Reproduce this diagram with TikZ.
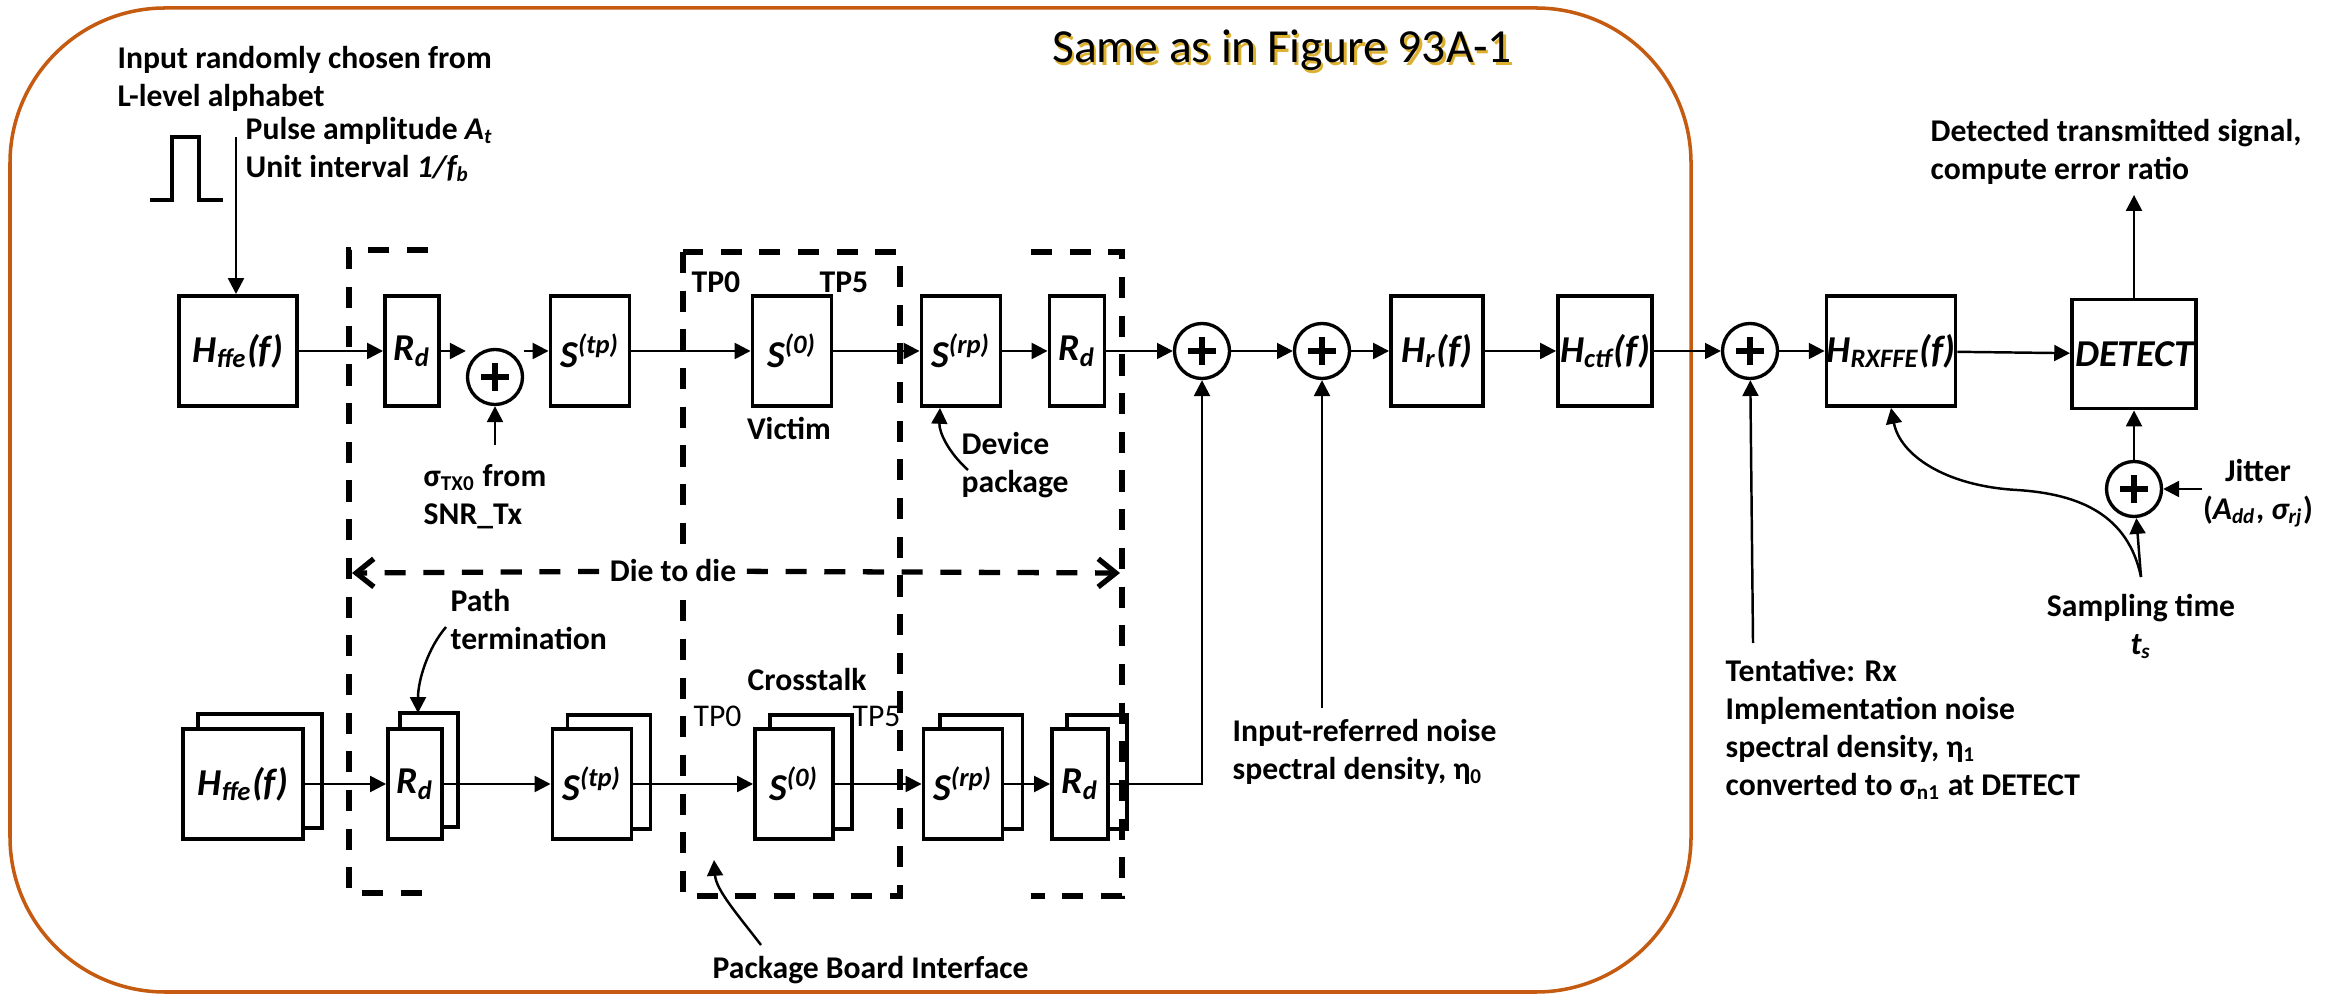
\documentclass[tikz,border=0pt]{standalone}
\usepackage{fontspec}
\setmainfont{Carlito}
\usetikzlibrary{arrows.meta, positioning, calc}

\definecolor{frameorange}{RGB}{197,90,17}
\definecolor{glow}{RGB}{222,176,48}

\tikzset{
  blk/.style={draw, line width=1.1pt, fill=white, inner sep=0pt, minimum height=1.1cm,
    font=\fontsize{10.8}{12}\selectfont\bfseries\itshape},
  summer/.style={circle, draw, line width=0.95pt, fill=white, minimum size=0.55cm, inner sep=0pt,
    path picture={\draw[line width=1.7pt] (path picture bounding box.center)
      +(-0.14cm,0) -- +(0.14cm,0) +(0,-0.14cm) -- +(0,0.14cm);}},
  arr/.style={-{Triangle[length=4.5pt,width=4.5pt]}, line width=0.7pt},
  lbl/.style={font=\fontsize{9}{10.8}\selectfont\bfseries, inner sep=0pt, align=left},
  dashbox/.style={dash pattern=on 6pt off 5pt, line width=1.5pt},
  dasharr/.style={dash pattern=on 6pt off 5pt, line width=1.5pt, -{Straight Barb[length=5pt,width=8pt]}},
}

\begin{document}
\begin{tikzpicture}[x=0.01cm, y=-0.01cm]
    \useasboundingbox (0,0) rectangle (2328,995);

    \draw[frameorange, line width=1pt, rounded corners=1.55cm] (10,8) rectangle (1691,992);
    \node[glow, font=\fontsize{13.5}{16}\selectfont, anchor=base, inner sep=0pt] (titleg) at (1284.5,65.5) {Same as in Figure 93A-1};
    \node[font=\fontsize{13.5}{16}\selectfont, anchor=base, inner sep=0pt] (title) at (1282,63) {Same as in Figure 93A-1};

    \draw[line width=0.9pt] (150,200) -- (172,200) -- (172,137) -- (199,137) -- (199,200) -- (223,200);

    \draw[dashbox] (428,250) -- (349,250) -- (349,893) -- (428,893);
    \draw[dashbox] (683,252) rectangle (900,896);
    \draw[dashbox] (1031,252) -- (1122,252) -- (1122,896) -- (1031,896);

    \node[blk, minimum width=1.18cm] (hffe1) at (238,351) {H\textsubscript{ffe}(f)};
    \node[blk, minimum width=0.54cm] (rd1) at (412,351) {R\textsubscript{d}};
    \node[summer] (sum1) at (495,377) {};
    \node[blk, minimum width=0.79cm] (stp1) at (590,351) {S\textsuperscript{(tp)}};
    \node[blk, minimum width=0.79cm] (s01) at (792,351) {S\textsuperscript{(0)}};
    \node[blk, minimum width=0.79cm] (srp1) at (961,351) {S\textsuperscript{(rp)}};
    \node[blk, minimum width=0.55cm] (rd2) at (1077,351) {R\textsubscript{d}};
    \node[summer] (sum2) at (1202,351) {};
    \node[summer] (sum3) at (1322,351) {};
    \node[blk, minimum width=0.92cm] (hr) at (1437,351) {H\textsubscript{r}(f)};
    \node[blk, minimum width=0.94cm] (hctf) at (1605,351) {H\textsubscript{ctf}(f)};
    \node[summer] (sum4) at (1750,351) {};
    \node[blk, minimum width=1.25cm] (hrx) at (1891,351) {H\textsubscript{RXFFE}(f)};
    \node[blk, minimum width=1.24cm, minimum height=1.09cm] (det) at (2134,354) {DETECT};
    \node[summer] (sum5) at (2134,489) {};

    \node[blk, minimum width=1.2cm] (hffe2) at (243,784) {H\textsubscript{ffe}(f)};
    \node[blk, minimum width=0.54cm] (rd3) at (415,784) {R\textsubscript{d}};
    \node[blk, minimum width=0.79cm] (stp2) at (592,784) {S\textsuperscript{(tp)}};
    \node[blk, minimum width=0.78cm] (s02) at (794,784) {S\textsuperscript{(0)}};
    \node[blk, minimum width=0.79cm] (srp2) at (963,784) {S\textsuperscript{(rp)}};
    \node[blk, minimum width=0.56cm] (rd4) at (1080,784) {R\textsubscript{d}};

    \draw[line width=1.1pt] ([xshift=0.17cm]hffe2.north west) |- ([xshift=0.17cm,yshift=0.13cm]hffe2.north east) |- ([yshift=0.13cm]hffe2.south east);
    \draw[line width=1.1pt] ([xshift=0.14cm]rd3.north west) |- ([xshift=0.14cm,yshift=0.14cm]rd3.north east) |- ([yshift=0.14cm]rd3.south east);
    \draw[line width=1.1pt] ([xshift=0.17cm]stp2.north west) |- ([xshift=0.17cm,yshift=0.12cm]stp2.north east) |- ([yshift=0.12cm]stp2.south east);
    \draw[line width=1.1pt] ([xshift=0.17cm]s02.north west) |- ([xshift=0.17cm,yshift=0.12cm]s02.north east) |- ([yshift=0.12cm]s02.south east);
    \draw[line width=1.1pt] ([xshift=0.18cm]srp2.north west) |- ([xshift=0.18cm,yshift=0.12cm]srp2.north east) |- ([yshift=0.12cm]srp2.south east);
    \draw[line width=1.1pt] ([xshift=0.17cm]rd4.north west) |- ([xshift=0.17cm,yshift=0.12cm]rd4.north east) |- ([yshift=0.12cm]rd4.south east);

    \coordinate (pin) at (236,137);
    \draw[arr] (pin) -- (pin |- hffe1.north);
    \draw[arr] (hffe1) -- (rd1);
    \draw[arr] (rd1.east) -- (rd1.east -| sum1.west);
    \draw[arr] (sum1.east |- stp1.west) -- (stp1.west);
    \coordinate (snr) at (495,445);
    \draw[arr] (snr) -- (sum1);
    \draw[arr] (stp1) -- (s01);
    \draw[arr] (s01) -- (srp1);
    \draw[arr] (srp1) -- (rd2);
    \draw[arr] (rd2) -- (sum2);
    \draw[arr] (sum2) -- (sum3);
    \draw[arr] (sum3) -- (hr);
    \draw[arr] (hr) -- (hctf);
    \draw[arr] (hctf) -- (sum4);
    \draw[arr] (sum4) -- (hrx);
    \draw[arr] (hrx) -- (det);
    \coordinate (dout) at (2134,195);
    \draw[arr] (det) -- (dout);
    \draw[arr] (sum5) -- (det);
    \coordinate (jit) at (2202,489);
    \draw[arr] (jit) -- (sum5);
    \coordinate (ts) at (2141,577);
    \draw[arr] (ts) -- (sum5);
    \draw[arr] (ts) .. controls (2128,515) and (2080,494) .. (2017,490) .. controls (1945,486) and (1900,455) .. (hrx.south);
    \coordinate (n0) at (1322,708);
    \draw[arr] (n0) -- (sum3);
    \coordinate (n1) at (1753,643);
    \draw[arr] (n1) -- (sum4);

    \draw[arr] (hffe2) -- (rd3);
    \draw[arr] (rd3) -- (stp2);
    \draw[arr] (stp2) -- (s02);
    \draw[arr] (s02) -- (srp2);
    \draw[arr] (srp2) -- (rd4);
    \draw[arr] (rd4) -| (sum2);

    \coordinate (devp) at (968,470);
    \draw[arr] (devp) .. controls (948,452) and (939,432) .. ([xshift=-0.21cm]srp1.south);
    \coordinate (ptrm) at (446,627);
    \draw[arr] (ptrm) .. controls (428,648) and (418,680) .. ([xshift=0.03cm,yshift=0.14cm]rd3.north);
    \coordinate (pbi) at (761,945);
    \coordinate (pbt) at (714,860);
    \draw[arr] (pbi) .. controls (738,915) and (716,890) .. (pbt);

    \node[lbl, fill=white, inner xsep=0.1cm, inner ysep=0.06cm] (d2d) at (673,571) {Die to die};
    \coordinate (dl) at (352,573);
    \coordinate (dr) at (1120,573);
    \draw[dasharr] (d2d) -- (dl);
    \draw[dasharr] (d2d) -- (dr);

    \node[lbl, anchor=north west] (inp) at (117,46) {Input randomly chosen from\\L-level alphabet};
    \node[lbl, anchor=north west] (pls) at (245,117) {Pulse amplitude \textit{A\textsubscript{t}}\\Unit interval \textit{1/f\textsubscript{b}}};
    \node[lbl, anchor=north west] (snrl) at (423,464) {σ\textsubscript{TX0} from\\SNR\_Tx};
    \node[lbl, anchor=base] (vic) at (789,440) {Victim};
    \node[lbl, anchor=north west] (devl) at (961,432) {Device\\package};
    \node[lbl, anchor=base west] (tp0a) at (691,293) {TP0};
    \node[lbl, anchor=base west] (tp5a) at (819,293) {TP5};
    \node[lbl, anchor=north west] (pthl) at (450,589) {Path\\termination};
    \node[lbl, anchor=base west] (xtk) at (747,691) {Crosstalk};
    \node[lbl, font=\fontsize{9}{10.8}\selectfont, anchor=base west] (tp0b) at (693,727) {TP0};
    \node[lbl, font=\fontsize{9}{10.8}\selectfont, anchor=base west] (tp5b) at (852,727) {TP5};
    \node[lbl, anchor=base west] (pbil) at (712,978) {Package Board Interface};
    \node[lbl, anchor=north west] (n0l) at (1232,719) {Input-referred noise\\spectral density, η\textsubscript{0}};
    \node[lbl, anchor=north west] (n1l) at (1725,659) {Tentative: Rx\\Implementation noise\\spectral density, η\textsubscript{1}\\converted to σ\textsubscript{n1} at DETECT};
    \node[lbl, anchor=north west] (detl) at (1930,119) {Detected transmitted signal,\\compute error ratio};
    \node[lbl, align=center, anchor=north] (jitl) at (2258,459) {Jitter\\(\textit{A\textsubscript{dd}}, \textit{σ\textsubscript{rj}})};
    \node[lbl, align=center, anchor=north] (tsl) at (2141,594) {Sampling time\\\textit{t\textsubscript{s}}};
\end{tikzpicture}
\end{document}
